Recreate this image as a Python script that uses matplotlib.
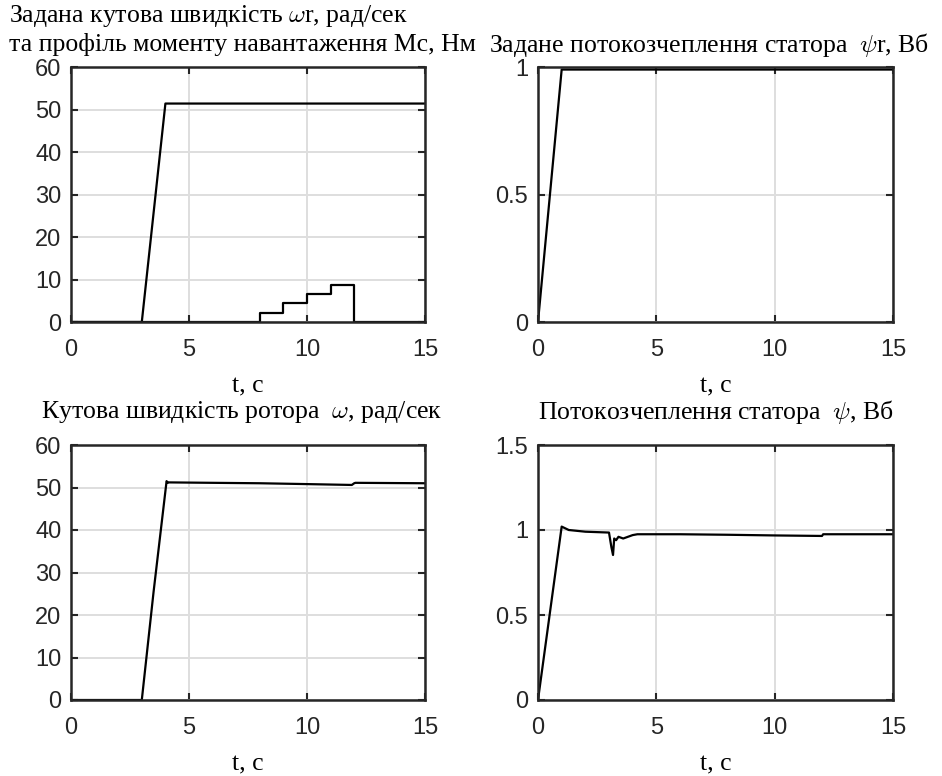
import matplotlib
matplotlib.use('Agg')
import matplotlib.pyplot as plt

plt.rcParams['mathtext.fontset'] = 'cm'

# reference speed wr and load torque Mc
t_wr = [0, 3, 4, 15]
wr = [0, 0, 51.4, 51.4]
t_mc = [0, 8, 8, 9, 9, 10, 10, 11, 11, 12, 12, 15]
mc = [0, 0, 2.2, 2.2, 4.4, 4.4, 6.6, 6.6, 8.8, 8.8, 0, 0]

# reference stator flux psi_r
t_psir = [0, 1, 15]
psir = [0, 0.99, 0.99]

# rotor speed w
t_w = [0, 3, 3.5, 4.05, 4.1, 4.15, 6, 8, 10, 11.9, 12, 12.05, 15]
w = [0, 0, 25.5, 51.5, 51.1, 51.2, 51.1, 51.0, 50.8, 50.6, 51.0, 51.1, 51.0]

# stator flux psi
t_psi = [0, 1.0, 1.3, 2.0, 3.0, 3.1, 3.17, 3.22, 3.3, 3.4, 3.6, 3.8, 4.0, 4.2, 6, 8, 10, 12, 12.05, 15]
psi = [0, 1.02, 1.0, 0.99, 0.985, 0.9, 0.853, 0.95, 0.94, 0.96, 0.95, 0.96, 0.97, 0.975, 0.975, 0.972, 0.968, 0.965, 0.975, 0.975]

xticks = [0, 5, 10, 15]

serif = 'Liberation Serif'
sans = 'Liberation Sans'
W, H = 942, 776
tsize = 18.5

fig = plt.figure(figsize=(W / 100, H / 100), dpi=100)


def make_ax(x0, x1, y0, y1, ylim, yticks, ylabels):
    ax = fig.add_axes([x0 / W, 1 - y1 / H, (x1 - x0) / W, (y1 - y0) / H])
    ax.set_xlim(0, 15)
    ax.set_ylim(*ylim)
    ax.set_xticks(xticks)
    ax.set_xticklabels([str(v) for v in xticks])
    ax.set_yticks(yticks)
    ax.set_yticklabels(ylabels)
    ax.grid(True, color='#dedede', linewidth=1.4)
    ax.set_axisbelow(True)
    ax.tick_params(direction='in', top=True, right=True, length=5, width=1.5,
                   labelsize=17, colors='#262626')
    ax.tick_params(axis='x', pad=12)
    ax.tick_params(axis='y', pad=7)
    for lab in ax.get_xticklabels() + ax.get_yticklabels():
        lab.set_family(sans)
    for s in ax.spines.values():
        s.set_linewidth(1.8)
        s.set_color('#262626')
    ax.set_xlabel('t, с', family=serif, fontsize=tsize, labelpad=11)
    return ax


ax1 = make_ax(71, 425, 67, 322, (0, 60), [0, 10, 20, 30, 40, 50, 60],
              ['0', '10', '20', '30', '40', '50', '60'])
ax1.plot(t_wr, wr, color='black', lw=1.6)
ax1.plot(t_mc, mc, color='black', lw=1.6)
fig.text(208 / W, 1 - 16 / H, r'Задана кутова швидкість $\omega$r, рад/сек',
         family=serif, fontsize=tsize, ha='center', va='center')
fig.text(242 / W, 1 - 45 / H, 'та профіль моменту навантаження Мс, Нм',
         family=serif, fontsize=tsize, ha='center', va='center')

ax2 = make_ax(538, 893, 67, 322, (0, 1), [0, 0.5, 1], ['0', '0.5', '1'])
ax2.plot(t_psir, psir, color='black', lw=1.6)
fig.text(709 / W, 1 - 45 / H, r'Задане потокозчеплення статора  $\psi$r, Вб',
         family=serif, fontsize=tsize, ha='center', va='center')

ax3 = make_ax(71, 425, 445, 700, (0, 60), [0, 10, 20, 30, 40, 50, 60],
              ['0', '10', '20', '30', '40', '50', '60'])
ax3.plot(t_w, w, color='black', lw=1.6)
fig.text(242 / W, 1 - 412 / H, r'Кутова швидкість ротора  $\omega$, рад/сек',
         family=serif, fontsize=tsize, ha='center', va='center')

ax4 = make_ax(538, 893, 445, 700, (0, 1.5), [0, 0.5, 1, 1.5], ['0', '0.5', '1', '1.5'])
ax4.plot(t_psi, psi, color='black', lw=1.6)
fig.text(716 / W, 1 - 412 / H, r'Потокозчеплення статора  $\psi$, Вб',
         family=serif, fontsize=tsize, ha='center', va='center')

fig.savefig('out.png', dpi=100, facecolor='white')
